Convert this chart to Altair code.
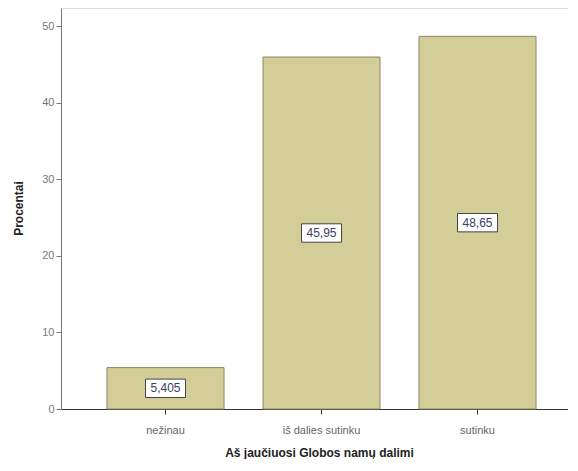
import altair as alt
import pandas as pd

categories = ["nežinau", "iš dalies sutinku", "sutinku"]
values = [5.405, 45.95, 48.65]
labels = ["5,405", "45,95", "48,65"]

df = pd.DataFrame({"cat": categories, "val": values, "lab": labels})
df["mid"] = df["val"] / 2

x_enc = alt.X(
    "cat:N",
    sort=categories,
    scale=alt.Scale(paddingInner=0.25, paddingOuter=0.25, align=0.59),
    axis=alt.Axis(
        title="Aš jaučiuosi Globos namų dalimi",
        labelAngle=0,
        labelFont="Liberation Sans",
        labelFontSize=11,
        labelColor="#666666",
        labelPadding=10,
        tickSize=5,
        tickColor="#333333",
        domainColor="#333333",
        titleFont="Liberation Sans",
        titleFontSize=12,
        titleFontWeight="bold",
        titleColor="#222222",
        titleX=258,
        titleY=43,
        titleBaseline="middle",
        titleAlign="center",
    ),
)

y_scale = alt.Scale(domain=[0, 52.35], nice=False, zero=True)

bars = alt.Chart(df).mark_bar(
    fill="#d3ce97", stroke="#8c8862", strokeWidth=1
).encode(
    x=x_enc,
    y=alt.Y(
        "val:Q",
        scale=y_scale,
        axis=alt.Axis(
            title="Procentai",
            values=[0, 10, 20, 30, 40, 50],
            grid=False,
            labelFont="Liberation Sans",
            labelFontSize=11,
            labelColor="#777777",
            labelPadding=2,
            tickSize=5,
            tickColor="#777777",
            domainColor="#777777",
            titleFont="Liberation Sans",
            titleFontSize=12,
            titleFontWeight="bold",
            titleColor="#222222",
            titleAngle=-90,
            titleX=-43,
            titleY=200,
            titleAlign="center",
            titleBaseline="middle",
        ),
    ),
)

boxes = alt.Chart(df).mark_point(
    shape="M-1,-0.46L1,-0.46L1,0.46L-1,0.46Z",
    size=1600,
    filled=True,
    fill="white",
    stroke="#444444",
    strokeWidth=1,
    opacity=1,
).encode(
    x=alt.X("cat:N", sort=categories),
    y=alt.Y("mid:Q", scale=y_scale),
)

texts = alt.Chart(df).mark_text(
    font="Liberation Sans", fontSize=12, color="#3c3c64", baseline="middle"
).encode(
    x=alt.X("cat:N", sort=categories),
    y=alt.Y("mid:Q", scale=y_scale),
    text="lab:N",
)

chart = (
    alt.layer(bars, boxes, texts)
    .properties(
        width=507,
        height=401,
        padding={"left": 53, "top": 0, "right": 0, "bottom": 50},
        autosize=alt.AutoSizeParams(type="none"),
    )
    .configure_view(stroke="#999999", strokeWidth=1)
    .configure(background="white")
)

chart.save("out.html", embed_options={"renderer": "svg", "actions": False})
